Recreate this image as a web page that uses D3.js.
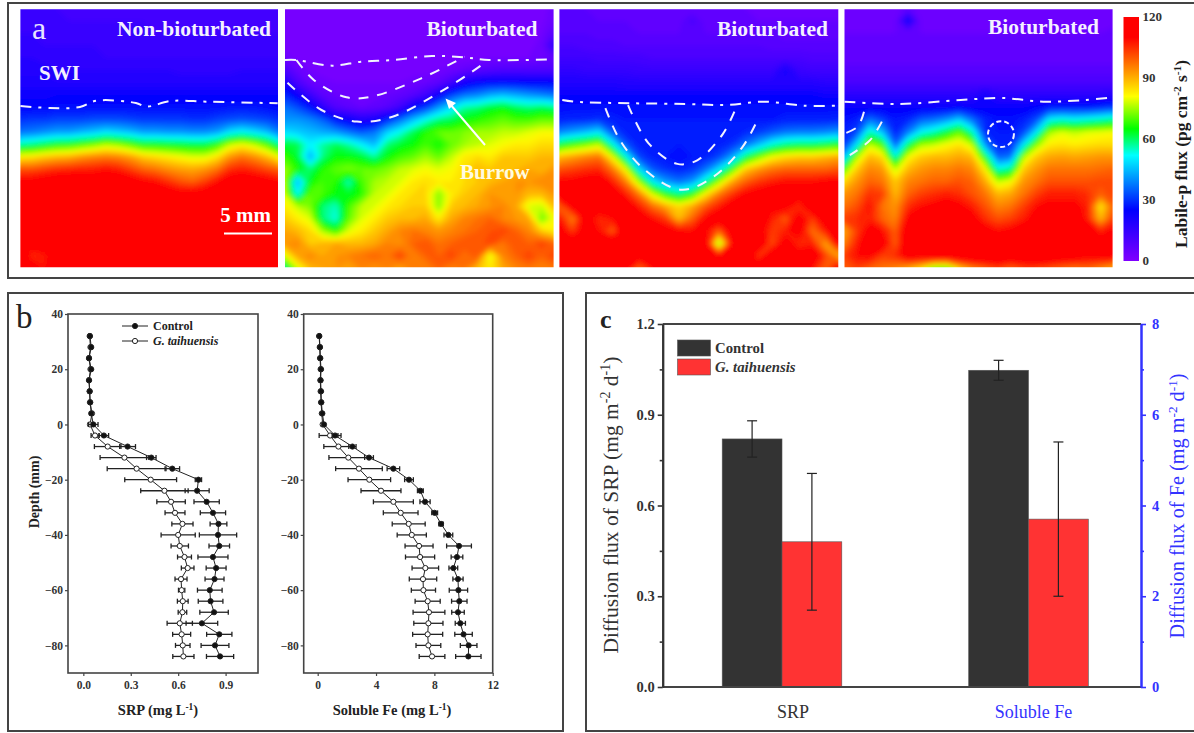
<!DOCTYPE html>
<html>
<head>
<meta charset="utf-8">
<script src="https://cdn.jsdelivr.net/npm/d3@7"></script>
<style>
  body { margin: 0; background: #fff; }
  text { font-family: "Liberation Serif", serif; }
</style>
</head>
<body>
<div id="chart"></div>
<script>
const w = 1194;
const h = 733;

// ---- panel a: labile-P flux, rows top to bottom
const fluxNon = [
  [14,14,14,14,13,13,13,13,13,13,13,13,13,12,12,12,12,12,12,12,12,12],
  [15,15,15,14,14,14,14,14,14,14,14,13,13,13,13,13,13,13,13,13,13,13],
  [16,16,15,15,15,15,15,15,14,14,14,14,14,14,14,14,14,14,14,14,14,14],
  [17,17,16,16,16,16,16,15,15,15,15,15,15,15,15,15,15,15,15,15,15,15],
  [18,18,17,17,17,17,17,16,16,16,16,16,16,16,16,16,16,16,16,16,16,16],
  [19,19,19,18,18,18,18,18,18,18,18,18,18,17,17,17,17,17,18,18,18,18],
  [21,21,21,20,20,20,20,20,20,20,20,20,20,20,20,20,20,20,20,20,20,20],
  [23,23,23,24,24,24,24,24,24,24,24,24,24,24,24,24,24,24,24,24,24,24],
  [26,26,26,27,27,27,27,27,27,27,27,27,27,27,27,27,27,28,28,28,27,26],
  [31,32,32,33,33,33,34,34,34,33,32,32,32,32,31,31,33,34,35,34,33,31],
  [38,39,41,43,43,45,47,50,48,46,43,43,42,42,41,41,43,50,53,50,46,39],
  [58,60,63,66,67,70,73,77,75,71,66,66,65,64,63,63,68,78,82,78,71,60],
  [84,85,88,90,91,94,96,97,96,93,88,86,84,82,80,80,85,94,98,95,90,82],
  [102,102,104,106,107,108,108,110,108,104,100,98,95,93,92,94,98,106,108,106,103,100],
  [113,114,116,118,118,118,118,120,118,116,112,110,106,102,100,104,110,116,118,116,114,112],
  [116,120,120,120,120,120,120,120,120,120,120,118,116,114,114,116,120,120,120,120,120,118],
  [118,120,120,120,120,120,120,120,120,120,120,120,120,120,120,120,120,120,120,120,120,120],
  [120,120,120,120,120,120,120,120,120,120,120,120,120,120,120,120,120,120,120,120,120,120],
  [120,120,120,120,120,120,120,120,120,120,120,120,120,120,120,120,120,120,120,120,120,120],
  [120,116,120,120,120,120,120,120,120,120,120,120,120,120,120,120,120,120,120,120,120,120],
  [120,106,108,118,120,120,120,120,120,120,120,120,120,120,120,120,120,120,120,120,120,120],
  [120,118,110,120,120,120,120,120,120,120,120,120,120,120,116,120,120,118,116,120,120,120]
];
const fluxBurrowA = [
  [2,2,2,2,2,2,2,2,2,2,2,2,2,2,2,2,2,2,2,2,3,5],
  [2,2,2,2,2,2,2,2,2,2,2,2,2,2,2,2,2,2,2,2,3,6],
  [2,2,2,2,2,2,2,2,2,2,2,2,2,2,2,2,2,2,2,3,4,9],
  [3,2,2,2,2,2,2,2,2,2,2,2,2,2,2,2,2,3,3,3,5,18],
  [5,3,3,3,2,2,2,2,2,2,2,2,3,3,3,3,4,4,4,4,5,7],
  [12,6,4,3,3,3,3,3,3,3,3,3,4,5,7,9,10,11,11,11,11,11],
  [22,12,6,5,4,4,4,4,4,4,5,6,8,14,22,26,27,27,27,26,26,26],
  [30,24,15,8,6,5,5,5,6,7,9,14,24,33,38,40,44,46,44,42,40,38],
  [38,34,28,18,10,8,6,7,9,14,26,32,42,50,58,60,64,66,62,60,62,60],
  [42,42,40,36,28,24,20,22,30,38,46,54,60,62,66,68,70,72,70,70,72,72],
  [50,48,46,44,42,38,35,38,48,54,62,68,72,72,74,76,76,78,78,80,82,82],
  [64,62,52,58,62,58,52,46,60,64,66,70,66,72,76,78,80,82,84,84,86,86],
  [70,64,44,60,66,66,64,58,66,70,72,76,72,78,84,86,84,88,88,88,90,90],
  [76,68,60,68,72,74,72,72,74,78,80,82,80,82,86,90,88,88,90,92,90,94],
  [78,44,66,70,68,56,70,76,78,80,84,86,84,84,86,88,90,92,94,94,96,94],
  [80,52,72,70,66,64,68,78,80,84,86,86,74,84,88,90,94,92,94,90,90,94],
  [84,78,74,60,56,70,78,80,84,86,88,88,74,88,90,92,94,96,92,80,78,90],
  [88,84,80,60,54,72,80,84,88,90,90,92,84,92,96,98,100,96,94,92,72,82],
  [92,90,86,76,68,80,84,88,92,96,98,96,94,96,98,100,102,104,100,96,88,84],
  [94,96,88,90,92,90,90,92,96,94,100,102,98,100,102,100,104,98,102,100,104,100],
  [80,92,96,92,94,96,98,100,98,104,96,100,100,104,98,102,80,96,100,104,100,104],
  [58,80,90,92,94,92,96,94,96,92,98,96,100,96,98,90,84,92,96,98,96,98]
];
const fluxBurrowB = [
  [8,8,8,7,7,7,6,6,6,6,6,6,6,6,6,5,5,5,5,5,5,5],
  [9,9,9,8,8,8,7,7,7,7,12,7,7,7,6,6,6,6,6,6,6,6],
  [10,10,10,9,9,9,8,8,8,8,8,8,8,8,8,8,8,7,7,7,7,7],
  [12,12,11,11,11,10,10,10,10,10,10,10,10,10,10,10,9,9,9,9,9,9],
  [14,14,14,13,13,13,13,12,12,12,12,12,12,12,12,12,12,12,12,11,11,11],
  [17,17,16,16,16,16,15,15,15,15,15,15,15,15,15,15,15,22,15,14,14,14],
  [20,20,20,20,20,19,19,19,19,19,19,19,19,19,19,19,19,19,19,19,18,18],
  [24,24,24,24,24,24,24,24,24,24,24,24,24,24,24,24,24,24,24,24,23,23],
  [27,27,27,27,27,27,27,27,27,27,27,27,27,27,27,27,27,27,27,27,27,27],
  [29,30,30,31,29,28,28,28,28,28,28,28,28,28,28,28,28,29,29,29,29,30],
  [40,43,46,50,35,29,28,28,28,28,28,28,28,28,30,32,35,38,39,39,40,42],
  [64,69,73,78,55,35,29,28,28,28,28,28,29,31,38,46,55,60,62,62,64,67],
  [90,93,96,98,82,55,33,29,28,27,28,29,33,43,62,73,82,86,88,88,90,92],
  [102,104,106,107,98,82,50,35,31,29,31,38,50,69,88,94,98,100,100,100,100,102],
  [112,112,114,116,108,97,76,52,42,38,42,57,76,92,100,105,108,110,110,110,112,112],
  [118,110,112,116,116,108,97,80,67,60,67,84,97,105,112,114,116,116,114,118,118,118],
  [100,114,110,118,118,116,108,99,92,86,92,101,108,115,118,112,112,114,106,120,116,120],
  [110,96,116,106,110,116,116,110,105,90,100,112,116,118,114,118,108,100,116,104,118,120],
  [116,104,116,110,100,118,118,118,114,112,110,112,100,116,118,116,104,108,116,98,108,120],
  [120,120,118,114,120,116,120,118,118,118,116,118,72,112,116,120,102,116,106,108,92,114],
  [120,110,120,118,120,120,114,116,120,120,118,120,112,120,120,104,120,112,114,120,104,92],
  [120,120,120,120,110,116,100,110,118,120,120,120,120,120,116,120,120,118,120,110,100,118]
];
const fluxBurrowC = [
  [5,5,5,5,5,7,5,5,5,5,5,5,5,5,5,5,5,5,5,5,5,5],
  [5,5,5,5,5,24,5,5,5,5,5,5,5,5,5,5,5,5,5,5,5,5],
  [6,6,6,6,6,6,6,6,6,6,6,6,6,6,6,6,6,6,6,6,6,7],
  [6,6,6,6,6,6,6,6,6,6,6,6,6,6,6,6,6,6,6,6,6,6],
  [7,7,7,7,7,7,7,7,7,7,7,7,7,7,7,7,7,7,7,7,7,7],
  [9,9,9,9,9,9,9,9,9,9,9,9,9,9,9,9,9,9,9,9,9,9],
  [12,12,12,12,12,12,12,12,12,12,12,12,12,12,12,12,12,12,12,12,12,12],
  [18,18,18,18,18,18,18,18,18,18,18,22,18,18,18,18,18,18,18,18,18,19],
  [24,24,24,24,24,24,24,24,24,25,24,24,24,24,24,26,28,28,28,28,30,32],
  [27,29,38,33,28,30,36,38,42,48,38,30,27,27,29,34,52,55,53,55,57,60],
  [29,33,57,46,29,39,52,57,64,72,57,30,28,28,33,50,76,80,78,80,81,82],
  [31,50,78,70,36,62,76,78,82,85,78,41,29,29,50,74,84,85,84,85,86,86],
  [45,76,90,86,55,82,88,90,90,92,90,66,36,38,76,88,92,93,92,93,94,94],
  [70,88,96,94,78,90,94,96,96,98,96,84,55,60,88,94,98,98,98,98,99,100],
  [86,94,100,98,88,96,98,100,100,102,100,92,78,82,94,98,102,102,102,102,103,103],
  [94,98,106,104,90,100,104,106,108,106,102,98,90,92,98,104,108,108,108,106,100,104],
  [98,102,110,98,94,106,110,112,114,112,108,102,96,98,104,110,112,112,112,108,84,100],
  [104,106,108,100,96,112,116,118,118,116,114,106,102,104,108,114,116,116,116,108,90,104],
  [92,104,114,110,100,118,120,120,120,120,118,114,110,112,116,118,120,118,116,116,108,112],
  [96,108,116,116,100,120,120,120,120,120,120,118,116,118,120,120,120,120,118,118,114,118],
  [104,110,112,104,106,116,116,120,120,120,120,120,120,118,118,120,118,116,116,112,114,114],
  [100,104,100,98,96,92,86,72,70,88,96,100,104,100,104,104,102,100,98,100,96,92]
];

// interface and burrow traces in mm from the panel's top left corner
const swiNon = [[0,10.07],[3.08,10.28],[6.2,10.18],[7.9,9.52],[12.04,9.76],[13.08,10.14],[15.7,9.55],[19.4,9.62],[26.8,9.79]];
const swiA = [[0,5.28],[1.19,5.28],[4.9,5.87],[7.9,5.46],[11.24,5.28],[15.3,4.86],[18.6,5.0],[21.25,5.28],[28,5.21]];
const burrowAInner = [[1.19,5.28],[3.0,7.36],[6.4,9.17],[9.0,9.1],[14.2,7.19],[18.7,4.94]];
const burrowAOuter = [[0.26,7.65],[3.8,10.49],[7.5,11.7],[11.2,11.19],[16.8,8.23],[20.5,5.8]];
const swiB = [[0.3,9.45],[1.57,9.62],[7.56,9.79],[13.1,9.86],[17.4,9.97],[21.3,9.62],[25.5,10.04],[29,10.04]];
const burrowBInner = [[7.15,9.97],[9.29,13.96],[12.28,16.1],[14.4,15.7],[17,13.02],[18.3,10.49]];
const burrowBOuter = [[4.79,10.3],[6.29,13.6],[8.86,16.7],[12.7,18.8],[16.1,17.4],[19.1,14.3],[20.8,11.2]];
const swiC = [[0,9.62],[5.68,9.86],[12.1,9.45],[16.4,9.24],[20.7,9.62],[25,9.45],[27.9,9.17]];
const burrowCInner = [[2.03,10.67],[1.4,12.2],[0.12,12.9]];
const burrowCOuter = [[3.89,11.7],[2.69,13.6],[0.55,15.2]];
const burrowCCircle = [16.3, 13.0, 1.35];

const fluxStops = [0, 25, 52, 65, 81, 110];
const fluxColors = ["#8000ff", "#0000ff", "#00ffff", "#00ff00", "#ffff00", "#ff0000"];
const fluxTicks = [0, 30, 60, 90, 120];

// ---- panel b: porewater profiles
const depth = [32,28,24,20,16,12,8,4,0,-4,-8,-12,-16,-20,-24,-28,-32,-36,-40,-44,-48,-52,-56,-60,-64,-68,-72,-76,-80,-84];

const srpControl = [.042,.05,.036,.05,.036,.04,.044,.05,.063,.13,.28,.43,.563,.728,.72,.78,.82,.855,.852,.86,.82,.84,.83,.80,.805,.827,.75,.86,.833,.865];
const srpControlErr = [.006,.006,.006,.006,.006,.006,.006,.006,.03,.03,.05,.03,.046,.02,.076,.08,.08,.053,.118,.065,.095,.063,.06,.078,.078,.09,.1,.08,.088,.086];
const srpTaihu = [.04,.045,.036,.045,.036,.04,.042,.055,.042,.074,.154,.26,.337,.426,.513,.555,.58,.627,.60,.61,.64,.66,.618,.622,.629,.627,.61,.622,.629,.633];
const srpTaihuErr = [.004,.004,.004,.004,.004,.004,.004,.006,.01,.025,.084,.154,.186,.164,.15,.09,.063,.067,.108,.055,.044,.04,.038,.02,.034,.027,.08,.057,.046,.067];

const feControl = [.11,.16,.18,.23,.2,.23,.25,.32,.43,1.19,2.38,3.52,5.19,6.26,7.04,7.36,8.02,8.46,8.96,9.69,9.55,9.3,9.62,9.65,9.71,9.62,9.78,10.0,10.35,10.33];
const feControlErr = [.05,.05,.05,.05,.05,.05,.05,.05,.1,.2,.25,.3,.43,.3,.2,.35,.2,.15,.3,.85,.4,.3,.35,.63,.53,.43,.35,.6,.57,.87];
const feTaihu = [.1,.14,.16,.2,.18,.2,.23,.28,.34,.85,1.42,2.1,2.83,3.54,4.34,5.19,5.69,6.24,6.45,6.95,7.02,7.38,7.22,7.25,7.54,7.63,7.59,7.54,7.59,7.84];
const feTaihuErr = [.03,.03,.03,.03,.03,.03,.03,.04,.08,.75,1.0,1.33,1.6,1.46,1.37,1.37,1.19,1.13,1,.96,1,.91,.94,.83,.86,1.09,1,1.03,.85,.88];

const depthTicks = [40, 20, 0, -20, -40, -60, -80];
const srpTicks = [0, .3, .6, .9];
const feTicks = [0, 4, 8, 12];

// ---- panel c: diffusion flux, SRP on the left axis and Fe on the right one
const fluxCategories = ["SRP", "Soluble Fe"];
const seriesNames = ["Control", "G. taihuensis"];
const srpFlux = [.82, .48];
const srpFluxErr = [.06, .226];
const feFlux = [6.98, 3.7];
const feFluxErr = [.22, 1.7];
const srpFluxTicks = [0, .3, .6, .9, 1.2];
const srpFluxMinor = [.15, .45, .75, 1.05];
const feFluxTicks = [0, 2, 4, 6, 8];
const feFluxMinor = [1, 3, 5, 7];

const svg = d3.select("#chart").append("svg").attr("width", w).attr("height", h).style("display", "block");
const defs = svg.append("defs");
defs.append("filter").attr("id", "soft")
  .attr("x", "-5%").attr("y", "-5%").attr("width", "110%").attr("height", "110%")
  .append("feGaussianBlur").attr("stdDeviation", 2.4);

// outer boxes
const boxes = [[8, 3, 1200, 275], [8, 293, 555, 438], [586, 293, 620, 438]];
svg.selectAll("rect.box").data(boxes).enter().append("rect")
  .attr("class", "box")
  .attr("x", d => d[0]).attr("y", d => d[1]).attr("width", d => d[2]).attr("height", d => d[3])
  .attr("fill", "none").attr("stroke", "#444").attr("stroke-width", 2);

// writes "text^sup" style labels as tspans
function richText(sel, parts, size) {
  parts.forEach(p => {
    const t = sel.append("tspan").text(p[0]);
    if (p[1]) t.attr("dy", -size * 0.35).style("font-size", (size * 0.65) + "px");
    else if (p[2]) t.attr("dy", size * 0.35);
  });
}

// ---- panel a
const fluxColor = d3.scaleLinear().domain(fluxStops).range(fluxColors).clamp(true);
const pxPerMm = 9.6;
const mapTop = 9.3;
const mapBottom = 267.3;
const mapBleed = 7; // drawn past the clip so the blur does not round the corners
const maps = [
  { grid: fluxNon, left: 20.4, right: 278 },
  { grid: fluxBurrowA, left: 285, right: 553.6 },
  { grid: fluxBurrowB, left: 559.4, right: 838.3 },
  { grid: fluxBurrowC, left: 844.5, right: 1112.6 }
];
const thresholds = d3.range(0, 121, 2);

maps.forEach((m, i) => {
  const cols = m.grid[0].length;
  const rows = m.grid.length;
  const xCell = d3.scaleLinear().domain([0, cols]).range([m.left - mapBleed, m.right + mapBleed]);
  const yCell = d3.scaleLinear().domain([0, rows]).range([mapTop - mapBleed, mapBottom + mapBleed]);
  m.x = d3.scaleLinear().domain([0, (m.right - m.left) / pxPerMm]).range([m.left, m.right]);
  m.y = d3.scaleLinear().domain([0, (mapBottom - mapTop) / pxPerMm]).range([mapTop, mapBottom]);

  defs.append("clipPath").attr("id", "map" + i).append("rect")
    .attr("x", m.left).attr("y", mapTop).attr("width", m.right - m.left).attr("height", mapBottom - mapTop);

  const contours = d3.contours().size([cols, rows]).thresholds(thresholds)(m.grid.flat());
  const path = d3.geoPath(d3.geoTransform({
    point(px, py) { this.stream.point(xCell(px), yCell(py)); }
  }));
  svg.append("g").attr("clip-path", "url(#map" + i + ")")
    .append("g").attr("filter", "url(#soft)")
    .selectAll("path").data(contours).enter().append("path")
    .attr("d", path)
    .attr("fill", d => fluxColor(d.value));
});

function traceLine(m, pts, dash) {
  const line = d3.line().x(d => m.x(d[0])).y(d => m.y(d[1])).curve(d3.curveCatmullRom);
  svg.append("path").attr("d", line(pts))
    .attr("fill", "none").attr("stroke", "#f2f2ff").attr("stroke-width", 2)
    .attr("stroke-dasharray", dash);
}
const dashDot = "11 7 3 7";
const dashed = "10 9";
traceLine(maps[0], swiNon, dashDot);
traceLine(maps[1], swiA, dashDot);
traceLine(maps[1], burrowAInner, dashed);
traceLine(maps[1], burrowAOuter, dashed);
traceLine(maps[2], swiB, dashDot);
traceLine(maps[2], burrowBInner, dashed);
traceLine(maps[2], burrowBOuter, dashed);
traceLine(maps[3], swiC, dashDot);
traceLine(maps[3], burrowCInner, dashed);
traceLine(maps[3], burrowCOuter, dashed);
svg.append("circle")
  .attr("cx", maps[3].x(burrowCCircle[0])).attr("cy", maps[3].y(burrowCCircle[1]))
  .attr("r", burrowCCircle[2] * pxPerMm)
  .attr("fill", "none").attr("stroke", "#f2f2ff").attr("stroke-width", 2).attr("stroke-dasharray", "5 3");

// panel text
function mapLabel(str, x, y, size, anchor) {
  return svg.append("text").text(str).attr("x", x).attr("y", y)
    .attr("text-anchor", anchor || "start")
    .attr("fill", "#f4f0ff").attr("font-weight", "bold").style("font-size", size + "px");
}
mapLabel("Non-bioturbated", 271, 36, 21.5, "end");
mapLabel("Bioturbated", 537.5, 36, 21.5, "end");
mapLabel("Bioturbated", 828, 36, 21.5, "end");
mapLabel("Bioturbated", 1099, 34, 21.5, "end");
mapLabel("SWI", 39, 80, 21);
mapLabel("Burrow", 460, 179, 21).attr("fill", "#fffbe0");
mapLabel("5 mm", 271, 221.5, 21, "end").attr("fill", "#fff");
svg.append("text").text("a").attr("x", 32).attr("y", 39).attr("fill", "#e8e4ff").style("font-size", "32px");

svg.append("line").attr("x1", 224).attr("x2", 272).attr("y1", 233.5).attr("y2", 233.5)
  .attr("stroke", "#fff").attr("stroke-width", 2);

// burrow arrow
svg.append("line").attr("x1", 485).attr("y1", 145).attr("x2", 450).attr("y2", 104)
  .attr("stroke", "#fff").attr("stroke-width", 2);
svg.append("path").attr("d", "M445.5,98.5 L456,103 L449,109 Z").attr("fill", "#fff");

// colour bar
const barScale = d3.scaleLinear().domain([0, 120]).range([261, 17]);
const barGrad = defs.append("linearGradient").attr("id", "fluxBar")
  .attr("x1", 0).attr("x2", 0).attr("y1", 1).attr("y2", 0);
fluxStops.forEach((s, i) => {
  barGrad.append("stop").attr("offset", (s / 120 * 100) + "%").attr("stop-color", fluxColors[i]);
});
svg.append("rect").attr("x", 1123.5).attr("y", barScale(120)).attr("width", 15.5).attr("height", barScale(0) - barScale(120))
  .attr("fill", "url(#fluxBar)");
svg.selectAll("text.barTick").data(fluxTicks).enter().append("text")
  .attr("class", "barTick")
  .attr("x", 1142.5).attr("y", d => barScale(d) + 4)
  .attr("fill", "#333").attr("font-weight", "bold").style("font-size", "13px")
  .text(d => d);
const barTitle = svg.append("text")
  .attr("transform", "translate(1187,248) rotate(-90)")
  .attr("fill", "#1c1c1c").attr("font-weight", "bold").style("font-size", "17.5px");
richText(barTitle, [["Labile-p flux (pg cm"], ["-2", true], [" s", false, true], ["-1", true], [")", false, true]], 17.5);

// ---- panel b
const yDepth = d3.scaleLinear().domain([40, -90]).range([314, 673]);
const xSrp = d3.scaleLinear().domain([-0.097, 1.105]).range([68, 258]);
const xFe = d3.scaleLinear().domain([-0.96, 12]).range([303.7, 492.7]);

function profile(xScale, ticks, fmt, title, series) {
  const [x0, x1] = xScale.range();
  const g = svg.append("g");
  g.append("rect").attr("x", x0).attr("y", yDepth.range()[0]).attr("width", x1 - x0).attr("height", yDepth.range()[1] - yDepth.range()[0])
    .attr("fill", "none").attr("stroke", "#444").attr("stroke-width", 1.6);

  const yAxis = d3.axisLeft(yDepth).tickValues(depthTicks).tickSize(3).tickPadding(2);
  const xAxis = d3.axisBottom(xScale).tickValues(ticks).tickFormat(fmt).tickSize(3).tickPadding(5);
  [g.append("g").attr("transform", "translate(" + x0 + ",0)").call(yAxis),
   g.append("g").attr("transform", "translate(0," + yDepth.range()[1] + ")").call(xAxis)].forEach(a => {
    a.select(".domain").remove();
    a.selectAll("line").attr("stroke", "#444").attr("stroke-width", 1.2);
    a.selectAll("text").attr("fill", "#333").attr("font-weight", "bold")
      .style("font-family", '"Liberation Serif", serif').style("font-size", "11.5px");
  });

  const line = d3.line().x(d => xScale(d.v)).y(d => yDepth(d.depth));
  series.forEach(s => {
    const pts = depth.map((d, i) => ({ depth: d, v: s.values[i], e: s.err[i] }));
    const sg = g.append("g");
    sg.append("path").attr("d", line(pts)).attr("fill", "none").attr("stroke", "#222").attr("stroke-width", 1);
    sg.selectAll("line.eb").data(pts).enter().append("line").attr("class", "eb")
      .attr("x1", d => xScale(d.v - d.e)).attr("x2", d => xScale(d.v + d.e))
      .attr("y1", d => yDepth(d.depth)).attr("y2", d => yDepth(d.depth))
      .attr("stroke", "#222").attr("stroke-width", 1.3);
    [-1, 1].forEach(side => {
      sg.selectAll("line.cap" + side).data(pts).enter().append("line").attr("class", "cap" + side)
        .attr("x1", d => xScale(d.v + side * d.e)).attr("x2", d => xScale(d.v + side * d.e))
        .attr("y1", d => yDepth(d.depth) - 2.5).attr("y2", d => yDepth(d.depth) + 2.5)
        .attr("stroke", "#222").attr("stroke-width", 1.3);
    });
    sg.selectAll("circle").data(pts).enter().append("circle")
      .attr("cx", d => xScale(d.v)).attr("cy", d => yDepth(d.depth)).attr("r", 2.6)
      .attr("fill", s.fill).attr("stroke", "#222").attr("stroke-width", 1);
  });

  const t = g.append("text").attr("x", title[1]).attr("y", 715)
    .attr("text-anchor", "middle").attr("fill", "#222").attr("font-weight", "bold").style("font-size", "14.5px");
  richText(t, [[title[0] + " (mg L"], ["-1", true], [")", false, true]], 14.5);
}

// open markers are drawn on top, so the filled series goes first
profile(xFe, feTicks, d3.format("d"), ["Soluble Fe", 392], [
  { values: feTaihu, err: feTaihuErr, fill: "#fff" },
  { values: feControl, err: feControlErr, fill: "#111" }
]);
profile(xSrp, srpTicks, d3.format(".1f"), ["SRP", 158], [
  { values: srpTaihu, err: srpTaihuErr, fill: "#fff" },
  { values: srpControl, err: srpControlErr, fill: "#111" }
]);

svg.append("text").text("Depth (mm)")
  .attr("transform", "translate(39,492) rotate(-90)").attr("text-anchor", "middle")
  .attr("fill", "#222").attr("font-weight", "bold").style("font-size", "14px");
svg.append("text").text("b").attr("x", 16).attr("y", 328).attr("fill", "#222").style("font-size", "33px");

// legend of panel b
seriesNames.forEach((name, i) => {
  const ly = 326 + i * 15;
  svg.append("line").attr("x1", 122).attr("x2", 148).attr("y1", ly).attr("y2", ly).attr("stroke", "#222").attr("stroke-width", 1);
  svg.append("circle").attr("cx", 135).attr("cy", ly).attr("r", 2.6).attr("fill", i ? "#fff" : "#111").attr("stroke", "#222");
  svg.append("text").text(name).attr("x", 153).attr("y", ly + 3.5)
    .attr("fill", "#222").attr("font-weight", "bold").attr("font-style", i ? "italic" : "normal")
    .style("font-size", "12px");
});

// ---- panel c
const plotLeft = 662.7;
const plotRight = 1141;
const yFluxSrp = d3.scaleLinear().domain([0, 1.2]).range([687, 324]);
const yFluxFe = d3.scaleLinear().domain([0, 8]).range([687, 324]);
const xCat = d3.scalePoint().domain(fluxCategories).range([782, 1028.5]);
const barW = 59.8;
const blue = "#3333ff";

const bars = [];
seriesNames.forEach((s, i) => {
  bars.push({ cat: "SRP", i, v: srpFlux[i], e: srpFluxErr[i], y: yFluxSrp });
  bars.push({ cat: "Soluble Fe", i, v: feFlux[i], e: feFluxErr[i], y: yFluxFe });
});
const barX = d => xCat(d.cat) + (d.i ? 0 : -barW);
const barColors = ["#333333", "#ff3333"];
svg.selectAll("rect.bar").data(bars).enter().append("rect").attr("class", "bar")
  .attr("x", barX).attr("width", barW)
  .attr("y", d => d.y(d.v)).attr("height", d => d.y(0) - d.y(d.v))
  .attr("fill", d => barColors[d.i]).attr("stroke", "#555").attr("stroke-width", 0.6);

const ebar = svg.append("g").attr("stroke", "#222").attr("stroke-width", 1.2);
ebar.selectAll("line.stem").data(bars).enter().append("line").attr("class", "stem")
  .attr("x1", d => barX(d) + barW / 2).attr("x2", d => barX(d) + barW / 2)
  .attr("y1", d => d.y(d.v + d.e)).attr("y2", d => d.y(d.v - d.e));
[-1, 1].forEach(side => {
  ebar.selectAll("line.cap" + side).data(bars).enter().append("line").attr("class", "cap" + side)
    .attr("x1", d => barX(d) + barW / 2 - 5).attr("x2", d => barX(d) + barW / 2 + 5)
    .attr("y1", d => d.y(d.v + side * d.e)).attr("y2", d => d.y(d.v + side * d.e));
});

// top edge of the frame
svg.append("line").attr("x1", plotLeft).attr("x2", plotRight).attr("y1", 324).attr("y2", 324)
  .attr("stroke", "#444").attr("stroke-width", 2);
svg.append("line").attr("x1", plotLeft).attr("x2", plotRight).attr("y1", 687).attr("y2", 687)
  .attr("stroke", "#444").attr("stroke-width", 2);

function styleAxis(a, color) {
  a.selectAll(".domain").attr("stroke", color).attr("stroke-width", 2);
  a.selectAll("line").attr("stroke", color).attr("stroke-width", 1.6);
  a.selectAll("text").attr("fill", color).attr("font-weight", "bold")
    .style("font-family", '"Liberation Serif", serif').style("font-size", "14.5px");
}
const axLeft = svg.append("g").attr("transform", "translate(" + plotLeft + ",0)");
axLeft.call(d3.axisLeft(yFluxSrp).tickValues(srpFluxTicks).tickFormat(d3.format(".1f")).tickSize(5).tickPadding(3).tickSizeOuter(0));
styleAxis(axLeft, "#333");
const axLeftMinor = svg.append("g").attr("transform", "translate(" + plotLeft + ",0)");
axLeftMinor.call(d3.axisLeft(yFluxSrp).tickValues(srpFluxMinor).tickFormat("").tickSize(3).tickSizeOuter(0));
styleAxis(axLeftMinor, "#333");
const axRight = svg.append("g").attr("transform", "translate(" + plotRight + ",0)");
axRight.call(d3.axisRight(yFluxFe).tickValues(feFluxTicks).tickFormat(d3.format("d")).tickSize(5).tickPadding(6).tickSizeOuter(0));
styleAxis(axRight, blue);
const axRightMinor = svg.append("g").attr("transform", "translate(" + plotRight + ",0)");
axRightMinor.call(d3.axisRight(yFluxFe).tickValues(feFluxMinor).tickFormat("").tickSize(3).tickSizeOuter(0));
styleAxis(axRightMinor, blue);

svg.selectAll("text.cat").data(fluxCategories).enter().append("text").attr("class", "cat")
  .attr("x", d => xCat(d) + (d == "SRP" ? 11 : 5)).attr("y", 718)
  .attr("text-anchor", "middle").style("font-size", "18px")
  .attr("fill", (d, i) => i ? blue : "#333")
  .text(d => d);

const titleLeft = svg.append("text").attr("transform", "translate(618,505) rotate(-90)")
  .attr("text-anchor", "middle").attr("fill", "#333").style("font-size", "21.5px");
richText(titleLeft, [["Diffusion flux of SRP (mg m"], ["-2", true], [" d", false, true], ["-1", true], [")", false, true]], 21.5);
const titleRight = svg.append("text").attr("transform", "translate(1184,506) rotate(-90)")
  .attr("text-anchor", "middle").attr("fill", blue).style("font-size", "20.3px");
richText(titleRight, [["Diffusion flux of Fe (mg m"], ["-2", true], [" d", false, true], ["-1", true], [")", false, true]], 20.3);

svg.append("text").text("c").attr("x", 600).attr("y", 328).attr("fill", "#222").attr("font-weight", "bold").style("font-size", "26px");

seriesNames.forEach((name, i) => {
  svg.append("rect").attr("x", 677.5).attr("y", 340 + i * 19).attr("width", 33).attr("height", 16)
    .attr("fill", barColors[i]).attr("stroke", "#555").attr("stroke-width", 0.6);
  svg.append("text").text(name).attr("x", 715).attr("y", 352.5 + i * 19.5)
    .attr("fill", "#333").attr("font-weight", "bold").attr("font-style", i ? "italic" : "normal")
    .style("font-size", "14.8px");
});
</script>
</body>
</html>
